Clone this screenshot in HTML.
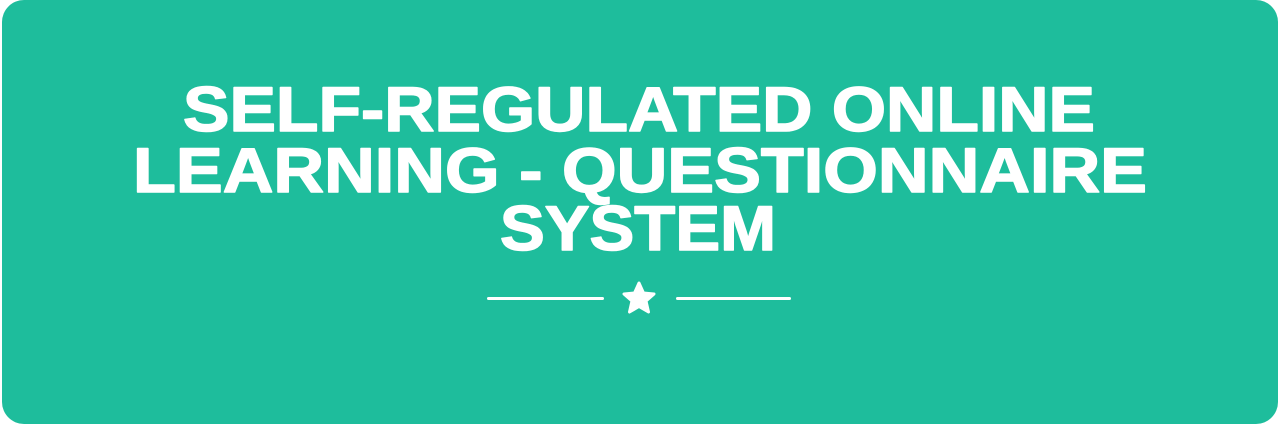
<!DOCTYPE html>
<html>
<head>
<meta charset="utf-8">
<style>
  html,body{margin:0;padding:0;background:#ffffff;width:1280px;height:424px;overflow:hidden;}
  svg{display:block;}
</style>
</head>
<body>
<svg width="1280" height="424" viewBox="0 0 1280 424">
  <rect x="2" y="0" width="1276" height="424" rx="22" ry="22" fill="#1ebd9c"/>
  <g font-family="'Liberation Sans', sans-serif" font-weight="bold" font-size="63" fill="#ffffff" stroke="#ffffff" stroke-width="1.5" stroke-linejoin="round">
    <text x="183" y="131" textLength="912" lengthAdjust="spacingAndGlyphs">SELF-REGULATED ONLINE</text>
    <text x="133" y="192" textLength="1014" lengthAdjust="spacingAndGlyphs">LEARNING - QUESTIONNAIRE</text>
    <text x="500" y="250" textLength="276" lengthAdjust="spacingAndGlyphs">SYSTEM</text>
  </g>
  <g>
    <rect x="487" y="297" width="117" height="3" rx="1.5" fill="#ffffff"/>
    <rect x="676" y="297" width="115" height="3" rx="1.5" fill="#ffffff"/>
    <polygon fill="#ffffff" stroke="#ffffff" stroke-width="3" stroke-linejoin="round"
      points="639,283 643.5,293 654,294 646,301 648.5,312 639,306.5 629.5,312 632,301 624,294 634.5,293"/>
  </g>
</svg>
</body>
</html>
